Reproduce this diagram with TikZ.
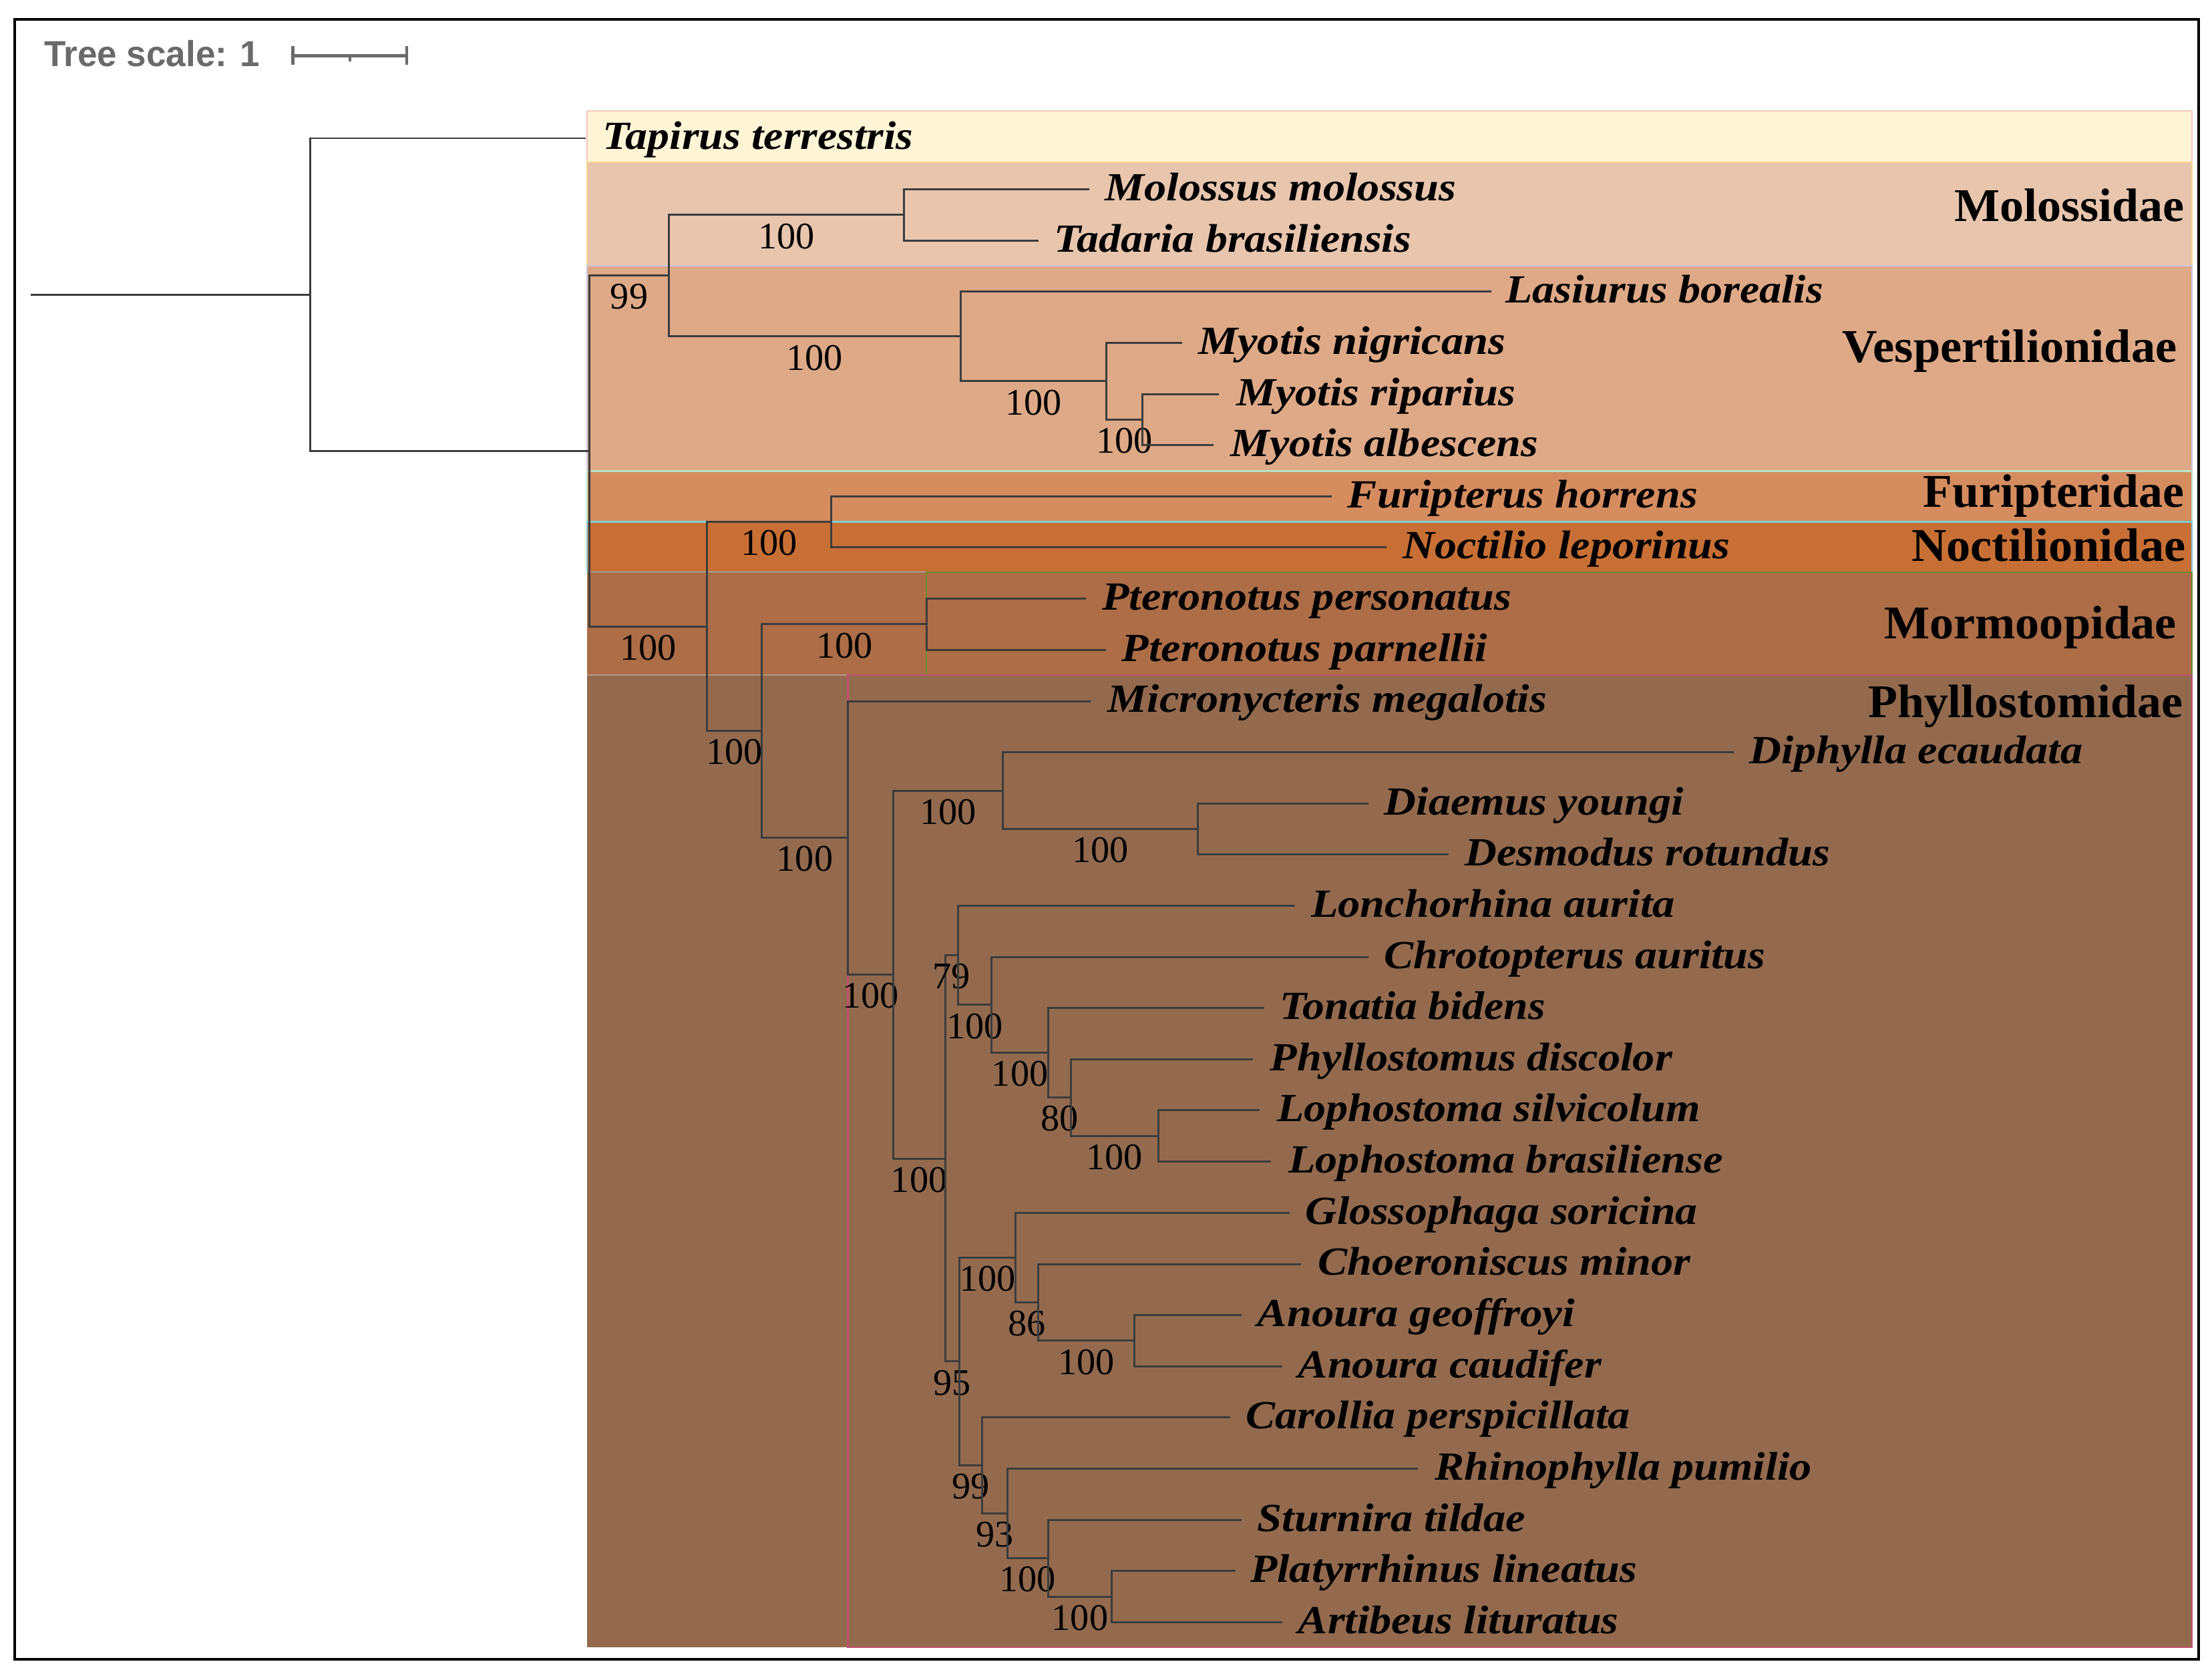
\documentclass[tikz,border=0pt]{standalone}
\usepackage{fontspec}
\usepackage{graphicx}
\setmainfont{Liberation Serif}
\newfontfamily\scalefamily{Liberation Sans}
\newdimen\sx \sx=0.021122cm
\newcommand\tx[2]{\resizebox{#1\sx}{\height}{\fontsize{17}{17}\selectfont\bfseries\itshape #2}}
\newcommand\fm[2]{\resizebox{#1\sx}{\height}{\fontsize{20}{20}\selectfont\bfseries #2}}
\newcommand\edge[3]{\draw[br] (#1) |- (#2) node[boot, pos=0.75, yshift=-0.3168cm]{#3};}
\newcommand\tip[2]{\draw[br] (#1) |- (#2);}
\definecolor{brc}{HTML}{3C3C3C}
\definecolor{cTap}{HTML}{FFF4D6}
\definecolor{bTap}{HTML}{F4C8C4}
\definecolor{cMol}{HTML}{E8C5AD}
\definecolor{bMol}{HTML}{F8D890}
\definecolor{cVes}{HTML}{DEA987}
\definecolor{bVes}{HTML}{CBC3E3}
\definecolor{cFur}{HTML}{D58C5F}
\definecolor{bFur}{HTML}{B8E0C0}
\definecolor{cNoc}{HTML}{C86F35}
\definecolor{bNoc}{HTML}{7ECCD8}
\definecolor{cMor}{HTML}{AC6D47}
\definecolor{bMor}{HTML}{6E8B2E}
\definecolor{cPhy}{HTML}{936A4E}
\definecolor{bPhy}{HTML}{C05070}
\definecolor{scalegray}{HTML}{6A6A6A}
\tikzset{
  br/.style={draw=brc, line width=0.85pt, line join=miter},
  boot/.style={font=\fontsize{16}{16}\selectfont, inner sep=0pt, text=black},
  taxon/.style={inner sep=0pt, anchor=base west},
  fam/.style={inner sep=0pt, anchor=base east},
  band/.style={line width=0.6pt},
}
\begin{document}
\begin{tikzpicture}[x=0.021122cm, y=-0.021122cm]
\useasboundingbox (0,0) rectangle (1568,1191);
% frame
\draw[black, line width=1.2pt] (10.6,13.7) rectangle (1558.6,1176.6);
% tree scale
\node[inner sep=0pt, anchor=base west, text=scalegray] (ts) at (31,46.9)
  {\resizebox{153\sx}{\height}{\fontsize{15.4}{15.4}\selectfont\scalefamily\bfseries Tree scale: 1}};
\coordinate (sbL) at (207.5,39.4);
\coordinate (sbR) at (288.4,39.4);
\coordinate (sbM) at (248,39.4);
\draw[scalegray, line width=1.3pt] (sbL) -- (sbR);
\draw[scalegray, line width=1.3pt] ([yshift=0.14cm]sbL) -- ([yshift=-0.135cm]sbL);
\draw[scalegray, line width=1.3pt] ([yshift=0.14cm]sbR) -- ([yshift=-0.135cm]sbR);
\draw[scalegray, line width=1.3pt] (sbM) -- ([yshift=-0.085cm]sbM);
% colour bands
\filldraw[band, fill=cTap, draw=bTap] (416,78.6) rectangle (1553.6,115);
\filldraw[band, fill=cMol, draw=bMol] (416,115) rectangle (1553.6,188.5);
\filldraw[band, fill=cVes, draw=bVes] (416,188.5) rectangle (1553.6,334);
\filldraw[band, fill=cFur, draw=bFur] (416,334) rectangle (1553.6,370);
\filldraw[band, fill=cNoc, draw=bNoc] (416,370) rectangle (1553.6,405.8);
\fill[cMor] (416,405.8) rectangle (1553.6,478.7);
\draw[band, draw=bMor] (656.8,405.8) rectangle (1553.6,478.7);
\fill[cPhy] (416,478.7) rectangle (1553.6,1168);
\draw[band, draw=cPhy!70!white] (416,478.7) -- (601,478.7);
\draw[band, draw=bPhy] (601,478.7) rectangle (1553.6,1168);
% family labels
\node[fam] (fMol) at (1548.6,157) {\fm{163}{Molossidae}};
\node[fam] (fVes) at (1543.5,256.7) {\fm{237}{Vespertilionidae}};
\node[fam] (fFur) at (1548.6,359.4) {\fm{185}{Furipteridae}};
\node[fam] (fNoc) at (1549.5,397.7) {\fm{194}{Noctilionidae}};
\node[fam] (fMor) at (1543,453) {\fm{207}{Mormoopidae}};
\node[fam] (fPhy) at (1547.6,508.8) {\fm{223}{Phyllostomidae}};
% internal nodes
\coordinate (stem) at (22,209);
\coordinate (Root) at (220,209.0);
\coordinate (Bats) at (418,319.9);
\coordinate (MV) at (474,195.5);
\coordinate (Mol) at (641,152.4);
\coordinate (Vesp) at (681,238.6);
\coordinate (Myo) at (784,270.3);
\coordinate (Myo2) at (810,297.55);
\coordinate (N501) at (501,444.2);
\coordinate (FN) at (589,370.1);
\coordinate (N540) at (540,518.3);
\coordinate (Pter) at (657,442.6);
\coordinate (Phyllo) at (601,594.0);
\coordinate (N633) at (633,691.0);
\coordinate (Desm) at (711,560.6);
\coordinate (DesD) at (849,587.8);
\coordinate (N670) at (670,821.4);
\coordinate (Lon79) at (679,677.4);
\coordinate (Chro) at (703,712.5);
\coordinate (Ton) at (743,746.5);
\coordinate (Phy80) at (759,778.2);
\coordinate (Lop) at (821,805.5);
\coordinate (N95) at (680,965.3);
\coordinate (Glo) at (720,891.6);
\coordinate (Cho86) at (736,923.4);
\coordinate (An) at (804,950.6);
\coordinate (Car99) at (696,1039.0);
\coordinate (Rhi93) at (714,1073.0);
\coordinate (Stu) at (743,1104.8);
\coordinate (PlAr) at (788,1132.0);
% leaf tips
\coordinate (L1) at (415,98.0);
\coordinate (L2) at (772,134.3);
\coordinate (L3) at (736,170.6);
\coordinate (L4) at (1057,206.8);
\coordinate (L5) at (838,243.1);
\coordinate (L6) at (864,279.4);
\coordinate (L7) at (860,315.7);
\coordinate (L8) at (944,352.0);
\coordinate (L9) at (983,388.2);
\coordinate (L10) at (770,424.5);
\coordinate (L11) at (784,460.8);
\coordinate (L12) at (773,497.1);
\coordinate (L13) at (1229,533.4);
\coordinate (L14) at (970,569.6);
\coordinate (L15) at (1027,605.9);
\coordinate (L16) at (918,642.2);
\coordinate (L17) at (970,678.5);
\coordinate (L18) at (896,714.8);
\coordinate (L19) at (888,751.0);
\coordinate (L20) at (893,787.3);
\coordinate (L21) at (901,823.6);
\coordinate (L22) at (914,859.9);
\coordinate (L23) at (922,896.2);
\coordinate (L24) at (880,932.4);
\coordinate (L25) at (909,968.7);
\coordinate (L26) at (872,1005.0);
\coordinate (L27) at (1005,1041.3);
\coordinate (L28) at (880,1077.6);
\coordinate (L29) at (876,1113.8);
\coordinate (L30) at (909,1150.1);
% branches
\draw[br] (stem) -- (Root);
\tip{Root}{L1}
\tip{Root}{Bats}
\edge{Bats}{MV}{99}
\edge{Bats}{N501}{100}
\edge{MV}{Mol}{100}
\edge{MV}{Vesp}{100}
\tip{Mol}{L2}
\tip{Mol}{L3}
\tip{Vesp}{L4}
\edge{Vesp}{Myo}{100}
\tip{Myo}{L5}
\edge{Myo}{Myo2}{100}
\tip{Myo2}{L6}
\tip{Myo2}{L7}
\edge{N501}{FN}{100}
\edge{N501}{N540}{100}
\tip{FN}{L8}
\tip{FN}{L9}
\edge{N540}{Pter}{100}
\edge{N540}{Phyllo}{100}
\tip{Pter}{L10}
\tip{Pter}{L11}
\tip{Phyllo}{L12}
\edge{Phyllo}{N633}{100}
\edge{N633}{Desm}{100}
\edge{N633}{N670}{100}
\tip{Desm}{L13}
\edge{Desm}{DesD}{100}
\tip{DesD}{L14}
\tip{DesD}{L15}
\edge{N670}{Lon79}{79}
\edge{N670}{N95}{95}
\tip{Lon79}{L16}
\edge{Lon79}{Chro}{100}
\tip{Chro}{L17}
\edge{Chro}{Ton}{100}
\tip{Ton}{L18}
\edge{Ton}{Phy80}{80}
\tip{Phy80}{L19}
\edge{Phy80}{Lop}{100}
\tip{Lop}{L20}
\tip{Lop}{L21}
\edge{N95}{Glo}{100}
\edge{N95}{Car99}{99}
\tip{Glo}{L22}
\edge{Glo}{Cho86}{86}
\tip{Cho86}{L23}
\edge{Cho86}{An}{100}
\tip{An}{L24}
\tip{An}{L25}
\tip{Car99}{L26}
\edge{Car99}{Rhi93}{93}
\tip{Rhi93}{L27}
\edge{Rhi93}{Stu}{100}
\tip{Stu}{L28}
\edge{Stu}{PlAr}{100}
\tip{PlAr}{L29}
\tip{PlAr}{L30}
% taxon labels
\node[taxon] (t1) at (427,106.0) {\tx{220}{Tapirus terrestris}};
\node[taxon] (t2) at (783,142.3) {\tx{249}{Molossus molossus}};
\node[taxon] (t3) at (747,178.6) {\tx{253}{Tadaria brasiliensis}};
\node[taxon] (t4) at (1067,214.8) {\tx{225}{Lasiurus borealis}};
\node[taxon] (t5) at (849,251.1) {\tx{218}{Myotis nigricans}};
\node[taxon] (t6) at (876,287.4) {\tx{198}{Myotis riparius}};
\node[taxon] (t7) at (872,323.7) {\tx{218}{Myotis albescens}};
\node[taxon] (t8) at (955,360.0) {\tx{248}{Furipterus horrens}};
\node[taxon] (t9) at (994,396.2) {\tx{232}{Noctilio leporinus}};
\node[taxon] (t10) at (781,432.5) {\tx{290}{Pteronotus personatus}};
\node[taxon] (t11) at (795,468.8) {\tx{259}{Pteronotus parnellii}};
\node[taxon] (t12) at (785,505.1) {\tx{311}{Micronycteris megalotis}};
\node[taxon] (t13) at (1240,541.4) {\tx{236}{Diphylla ecaudata}};
\node[taxon] (t14) at (981,577.6) {\tx{212}{Diaemus youngi}};
\node[taxon] (t15) at (1038,613.9) {\tx{259}{Desmodus rotundus}};
\node[taxon] (t16) at (929,650.2) {\tx{258}{Lonchorhina aurita}};
\node[taxon] (t17) at (981,686.5) {\tx{270}{Chrotopterus auritus}};
\node[taxon] (t18) at (907,722.8) {\tx{188}{Tonatia bidens}};
\node[taxon] (t19) at (900,759.0) {\tx{285}{Phyllostomus discolor}};
\node[taxon] (t20) at (905,795.3) {\tx{300}{Lophostoma silvicolum}};
\node[taxon] (t21) at (913,831.6) {\tx{308}{Lophostoma brasiliense}};
\node[taxon] (t22) at (925,867.9) {\tx{278}{Glossophaga soricina}};
\node[taxon] (t23) at (934,904.2) {\tx{264}{Choeroniscus minor}};
\node[taxon] (t24) at (891,940.4) {\tx{225}{Anoura geoffroyi}};
\node[taxon] (t25) at (920,976.7) {\tx{215}{Anoura caudifer}};
\node[taxon] (t26) at (883,1013.0) {\tx{272}{Carollia perspicillata}};
\node[taxon] (t27) at (1017,1049.3) {\tx{267}{Rhinophylla pumilio}};
\node[taxon] (t28) at (891,1085.6) {\tx{190}{Sturnira tildae}};
\node[taxon] (t29) at (886,1121.8) {\tx{274}{Platyrrhinus lineatus}};
\node[taxon] (t30) at (920,1158.1) {\tx{227}{Artibeus lituratus}};
\end{tikzpicture}
\end{document}
